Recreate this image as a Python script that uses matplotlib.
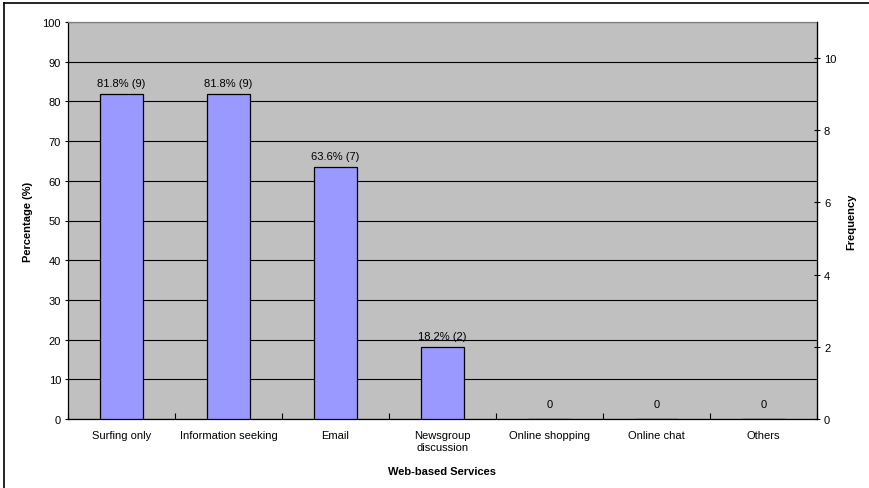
import matplotlib
matplotlib.use("Agg")
import matplotlib.pyplot as plt
from matplotlib.lines import Line2D
import numpy as np

plt.rcParams['font.family'] = ['Liberation Sans', 'DejaVu Sans']

services = ["Surfing only", "Information seeking", "Email", "Newsgroup\ndiscussion",
            "Online shopping", "Online chat", "Others"]
percent = [81.8, 81.8, 63.6, 18.2, 0, 0, 0]
freq = [9, 9, 7, 2, 0, 0, 0]

fig = plt.figure(figsize=(8.69, 4.89), dpi=100)
ax1 = fig.add_axes([68 / 869, 1 - 420 / 489, (817 - 68) / 869, (420 - 23) / 489])
ax1.set_facecolor("#c0c0c0")

x = np.arange(len(services))
ax1.bar(x, percent, width=0.4, color="#9999ff", edgecolor="black", linewidth=0.9, zorder=3)
for xi, p, f in zip(x, percent, freq):
    if f > 0:
        ax1.text(xi, p + 1.5, "%.1f%% (%d)" % (p, f), ha="center", va="bottom", fontsize=8, zorder=4)
    else:
        ax1.text(xi, 3.8, "0", ha="center", va="center", fontsize=8, zorder=4)

ax1.set_xlim(-0.5, len(services) - 0.5)
ax1.set_ylim(0, 100)
ax1.set_yticks(np.arange(0, 101, 10))
ax1.set_xticks(x)
ax1.set_xticklabels(services, fontsize=8)
ax1.set_xticks(np.arange(-0.5, len(services), 1), minor=True)
ax1.tick_params(axis="x", which="major", length=0, pad=8)
ax1.tick_params(axis="x", which="minor", length=4, direction="in", width=0.8)
ax1.tick_params(axis="y", labelsize=8, length=4, direction="inout", width=0.8, pad=3)
ax1.grid(axis="y", color="black", linewidth=0.8, zorder=1)
ax1.set_axisbelow(True)
for s in ["top", "right", "left"]:
    ax1.spines[s].set_color("#808080")
    ax1.spines[s].set_linewidth(0.9)
ax1.spines["bottom"].set_color("black")
ax1.spines["bottom"].set_linewidth(0.9)
ax1.spines["left"].set_color("black")
ax1.set_ylabel("Percentage (%)", fontsize=8, fontweight="bold", labelpad=7)
ax1.set_xlabel("Web-based Services", fontsize=8, fontweight="bold", labelpad=10)

ax2 = ax1.twinx()
ax2.set_ylim(0, 11)
ax2.set_yticks(np.arange(0, 11, 2))
ax2.tick_params(axis="y", labelsize=8, length=4, direction="inout", width=0.8, pad=3)
ax2.spines["right"].set_color("black")
ax2.spines["right"].set_linewidth(0.9)
for s in ["top", "left", "bottom"]:
    ax2.spines[s].set_visible(False)
ax2.set_ylabel("Frequency", fontsize=8, fontweight="bold", labelpad=7)

# outer chart border (left and top visible in the original)
fig.add_artist(Line2D([3.5 / 869, 3.5 / 869], [0, 1 - 4 / 489], color="black", linewidth=1.2))
fig.add_artist(Line2D([3.5 / 869, 1], [1 - 4 / 489, 1 - 4 / 489], color="black", linewidth=1.2))

plt.savefig("out.png", dpi=100)
